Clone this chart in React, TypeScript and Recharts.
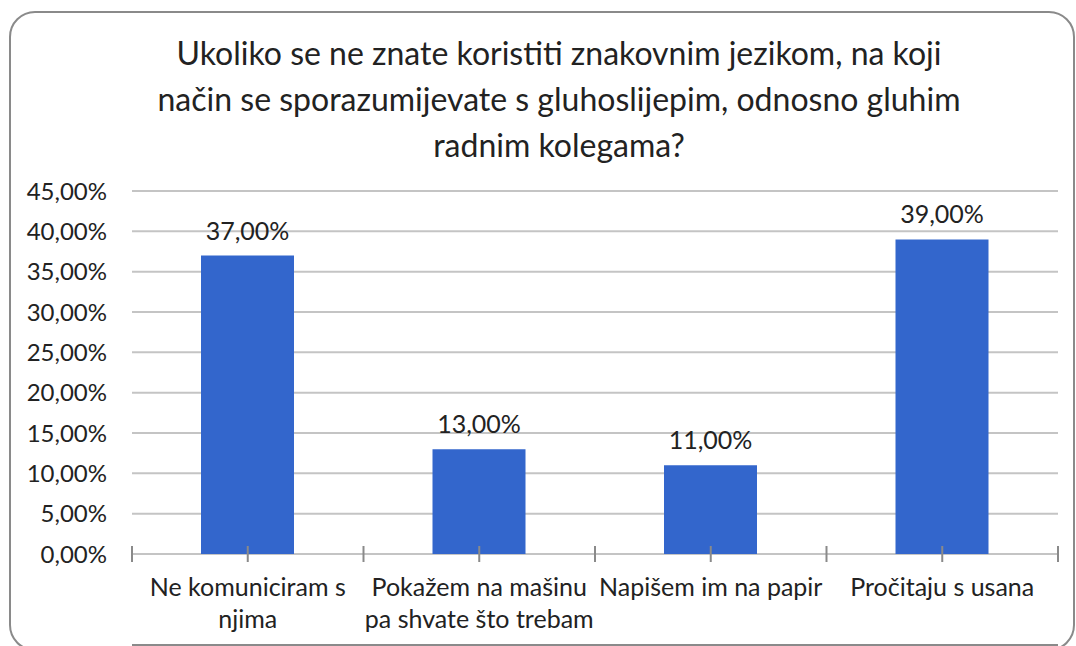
import React from "react";
import { BarChart, Bar, XAxis, YAxis, CartesianGrid, LabelList } from "recharts";

const categories = [
  "Ne komuniciram s\nnjima",
  "Pokažem na mašinu\npa shvate što trebam",
  "Napišem im na papir",
  "Pročitaju s usana",
];
const shares = [37, 13, 11, 39];
const yTicks = [0, 5, 10, 15, 20, 25, 30, 35, 40, 45];
const boundaryTicks = [0, 0.5, 1, 1.5, 2, 2.5, 3, 3.5, 4];
const title = [
  "Ukoliko se ne znate koristiti znakovnim jezikom, na koji",
  "način se sporazumijevate s gluhoslijepim, odnosno gluhim",
  "radnim kolegama?",
];

const FONT = "Lato, 'Open Sans', sans-serif";
const TEXT = "#222";
const AXIS = "#8a8a8a";

const data = categories.map((c, i) => ({ name: c, value: shares[i], pos: i + 0.5 }));

const pct = (v: number) => `${v.toFixed(2).replace(".", ",")}%`;

function CategoryTick(props: any) {
  const { x, payload } = props;
  const lines = String(payload.value).split("\n");
  return (
    <text x={x} y={596} textAnchor="middle" fill={TEXT} fontSize={25} fontFamily={FONT}>
      {lines.map((l, i) => (
        <tspan key={i} x={x} dy={i === 0 ? 0 : 32}>
          {l}
        </tspan>
      ))}
    </text>
  );
}

// tick marks only, crossing the axis line like the original
function EdgeTick(props: any) {
  const { x } = props;
  return <line x1={x} x2={x} y1={546} y2={562} stroke={AXIS} strokeWidth={2} />;
}

export default function App() {
  return (
    <div style={{ position: "absolute", left: 0, top: 0, width: 1076, height: 646, background: "#fff", overflow: "hidden" }}>
      <div
        style={{
          position: "absolute",
          left: 9,
          top: 11,
          width: 1066,
          height: 640,
          border: "2px solid #8a8a8a",
          borderRadius: 26,
          boxSizing: "border-box",
        }}
      />
      <div
        style={{
          position: "absolute",
          left: 59,
          top: 30,
          width: 1000,
          textAlign: "center",
          fontFamily: FONT,
          fontSize: 32,
          lineHeight: "46px",
          color: TEXT,
        }}
      >
        {title.map((t, i) => (
          <div key={i}>{t}</div>
        ))}
      </div>
      <div style={{ position: "absolute", left: 0, top: 0 }}>
        <BarChart width={1076} height={646} data={data} margin={{ top: 191, right: 18, left: 0, bottom: 0 }}>
          <CartesianGrid vertical={false} stroke="#c4c4c4" strokeWidth={2} />
          <XAxis
            xAxisId="edges"
            type="number"
            dataKey="pos"
            domain={[0, 4]}
            ticks={boundaryTicks}
            height={1}
            tick={<EdgeTick />}
            tickLine={false}
            stroke={AXIS}
            strokeWidth={2}
          />
          <XAxis dataKey="name" height={91} axisLine={false} tickLine={false} tick={<CategoryTick />} interval={0} />
          <YAxis
            width={132}
            domain={[0, 45]}
            ticks={yTicks}
            axisLine={false}
            tickLine={false}
            tickSize={0}
            tickMargin={25}
            tickFormatter={pct}
            tick={{ fill: TEXT, fontSize: 24, fontFamily: FONT }}
          />
          <Bar dataKey="value" fill="#3366cc" barSize={93} isAnimationActive={false}>
            <LabelList dataKey="value" position="top" offset={16} formatter={(v: any) => pct(Number(v))} fill={TEXT} fontSize={25} fontFamily={FONT} />
          </Bar>
        </BarChart>
      </div>
    </div>
  );
}
